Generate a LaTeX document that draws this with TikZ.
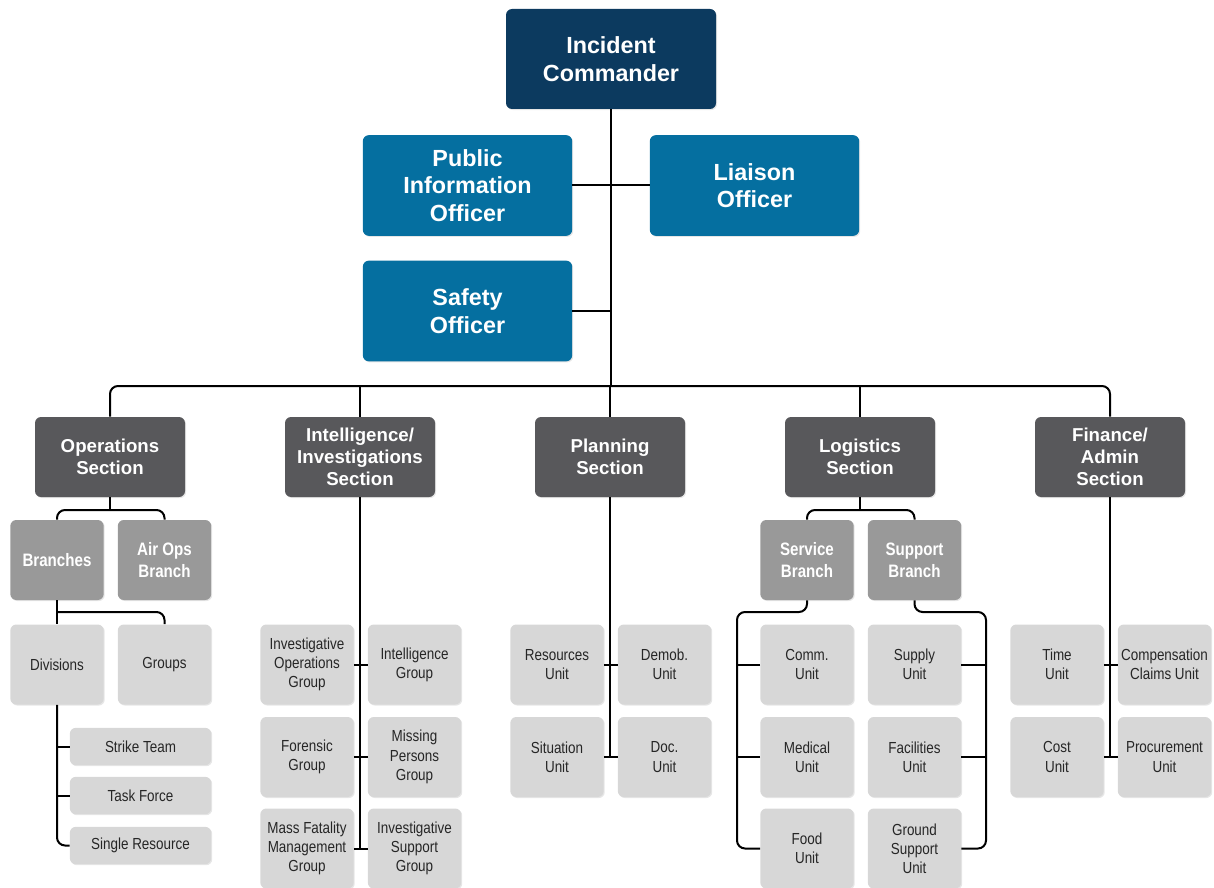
\documentclass[tikz,border=0pt]{standalone}
\usepackage{fontspec}
\setmainfont{Liberation Sans}
\newfontfamily\narrowfont[FakeStretch=0.84]{Liberation Sans}
\usetikzlibrary{positioning, shadows}

\definecolor{cmdnavy}{HTML}{0C3A5F}
\definecolor{officerblue}{HTML}{056FA0}
\definecolor{sectiongray}{HTML}{58585B}
\definecolor{branchgray}{HTML}{999999}
\definecolor{unitgray}{HTML}{D7D7D7}
\definecolor{unittext}{HTML}{262626}

\begin{document}
\begin{tikzpicture}[
x=0.75pt, y=-0.75pt,
every node/.style={align=center, inner sep=1pt},
box/.style={rectangle, rounded corners=4.5pt, drop shadow={opacity=0.2, shadow xshift=0.8pt, shadow yshift=-0.8pt}},
commander/.style={box, fill=cmdnavy, text=white, font=\fontsize{17.5}{20.5}\selectfont\bfseries, minimum width=157.5pt, minimum height=75pt},
officer/.style={box, fill=officerblue, text=white, font=\fontsize{17.5}{20.5}\selectfont\bfseries, minimum width=157pt, minimum height=75.5pt},
section/.style={box, fill=sectiongray, text=white, font=\fontsize{14}{16.5}\selectfont\bfseries, minimum width=112.5pt, minimum height=60pt},
branch/.style={box, fill=branchgray, text=white, font=\narrowfont\fontsize{13.5}{16.3}\selectfont\bfseries, minimum width=70pt, minimum height=60pt},
unit/.style={box, fill=unitgray, text=unittext, font=\narrowfont\fontsize{12}{14.4}\selectfont, minimum width=70pt, minimum height=60pt},
resource/.style={unit, minimum width=106pt, minimum height=28pt},
link/.style={draw=black, line width=1.5pt, rounded corners=6pt}
]

\useasboundingbox (0,0) rectangle (1214,888);

\node[commander] (cmd) at (611,59) {Incident\\Commander};
\node[officer] (pio) at (467.5,185.5) {Public\\Information\\Officer};
\node[officer] (liaison) at (754.5,185.5) {Liaison\\Officer};
\node[officer] (safety) at (467.5,311) {Safety\\Officer};

\node[section] (ops) at (110,457) {Operations\\Section};
\node[section] (intel) at (360,457) {Intelligence/\\Investigations\\Section};
\node[section] (plan) at (610,457) {Planning\\Section};
\node[section] (logi) at (860,457) {Logistics\\Section};
\node[section] (fin) at (1110,457) {Finance/\\Admin\\Section};

\node[branch] (branches) at (57,560) {Branches};
\node[branch] (airops) at (164.5,560) {Air Ops\\Branch};
\node[unit] (divisions) at (57,664.5) {Divisions};
\node[unit] (groups) at (164.5,664.5) {Groups};
\node[resource] (strike) at (140.5,746.5) {Strike Team};
\node[resource] (task) at (140.5,795.5) {Task Force};
\node[resource] (single) at (140.5,845.5) {Single Resource};

\node[unit] (invops) at (307,664.5) {Investigative\\Operations\\Group};
\node[unit] (intgroup) at (414.5,664.5) {Intelligence\\Group};
\node[unit] (forensic) at (307,757) {Forensic\\Group};
\node[unit] (missing) at (414.5,757) {Missing\\Persons\\Group};
\node[unit] (fatality) at (307,848.5) {Mass Fatality\\Management\\Group};
\node[unit] (invsupport) at (414.5,848.5) {Investigative\\Support\\Group};

\node[unit] (resources) at (557,664.5) {Resources\\Unit};
\node[unit] (demob) at (664.5,664.5) {Demob.\\Unit};
\node[unit] (situation) at (557,757) {Situation\\Unit};
\node[unit] (docu) at (664.5,757) {Doc.\\Unit};

\node[branch] (service) at (807,560) {Service\\Branch};
\node[branch] (support) at (914.5,560) {Support\\Branch};
\node[unit] (comm) at (807,664.5) {Comm.\\Unit};
\node[unit] (supply) at (914.5,664.5) {Supply\\Unit};
\node[unit] (medical) at (807,757) {Medical\\Unit};
\node[unit] (facilities) at (914.5,757) {Facilities\\Unit};
\node[unit] (food) at (807,848.5) {Food\\Unit};
\node[unit] (ground) at (914.5,848.5) {Ground\\Support\\Unit};

\node[unit] (time) at (1057,664.5) {Time\\Unit};
\node[unit] (comp) at (1164.5,664.5) {Compensation\\Claims Unit};
\node[unit] (cost) at (1057,757) {Cost\\Unit};
\node[unit] (procure) at (1164.5,757) {Procurement\\Unit};

\coordinate (bus) at (611,386);
\coordinate (opsbus) at (110,510);
\coordinate (opsfork) at (57,612);
\coordinate (logibus) at (860,510);
\coordinate (servicerail) at (737,612);
\coordinate (supportrail) at (986,612);

\draw[link] (cmd) -- (bus);
\draw[link] (pio) -- (liaison);
\draw[link] (safety) -- (safety -| bus);
\draw[link] (ops.north) |- (bus) -| (fin.north);
\draw[link] (intel.north) -- (intel.north |- bus);
\draw[link] (plan.north) -- (plan.north |- bus);
\draw[link] (logi.north) -- (logi.north |- bus);

\draw[link] (ops) -- (opsbus);
\draw[link] (branches.north) |- (opsbus) -| (airops.north);
\draw[link] (branches) -- (divisions);
\draw[link] (opsfork) -| (groups.north);
\draw[link] (divisions.south) |- (single.west);
\draw[link] (strike.west) -- (strike.west -| divisions.south);
\draw[link] (task.west) -- (task.west -| divisions.south);

\draw[link] (intel) -- (intel |- invsupport);
\draw[link] (invops) -- (intgroup);
\draw[link] (forensic) -- (missing);
\draw[link] (fatality) -- (invsupport);

\draw[link] (plan) -- (plan |- docu);
\draw[link] (resources) -- (demob);
\draw[link] (situation) -- (docu);

\draw[link] (logi) -- (logibus);
\draw[link] (service.north) |- (logibus) -| (support.north);
\draw[link] (service.south) |- (servicerail) |- (food.west);
\draw[link] (comm.west) -- (comm.west -| servicerail);
\draw[link] (medical.west) -- (medical.west -| servicerail);
\draw[link] (support.south) |- (supportrail) |- (ground.east);
\draw[link] (supply.east) -- (supply.east -| supportrail);
\draw[link] (facilities.east) -- (facilities.east -| supportrail);

\draw[link] (fin) -- (fin |- procure);
\draw[link] (time) -- (comp);
\draw[link] (cost) -- (procure);

\end{tikzpicture}
\end{document}
